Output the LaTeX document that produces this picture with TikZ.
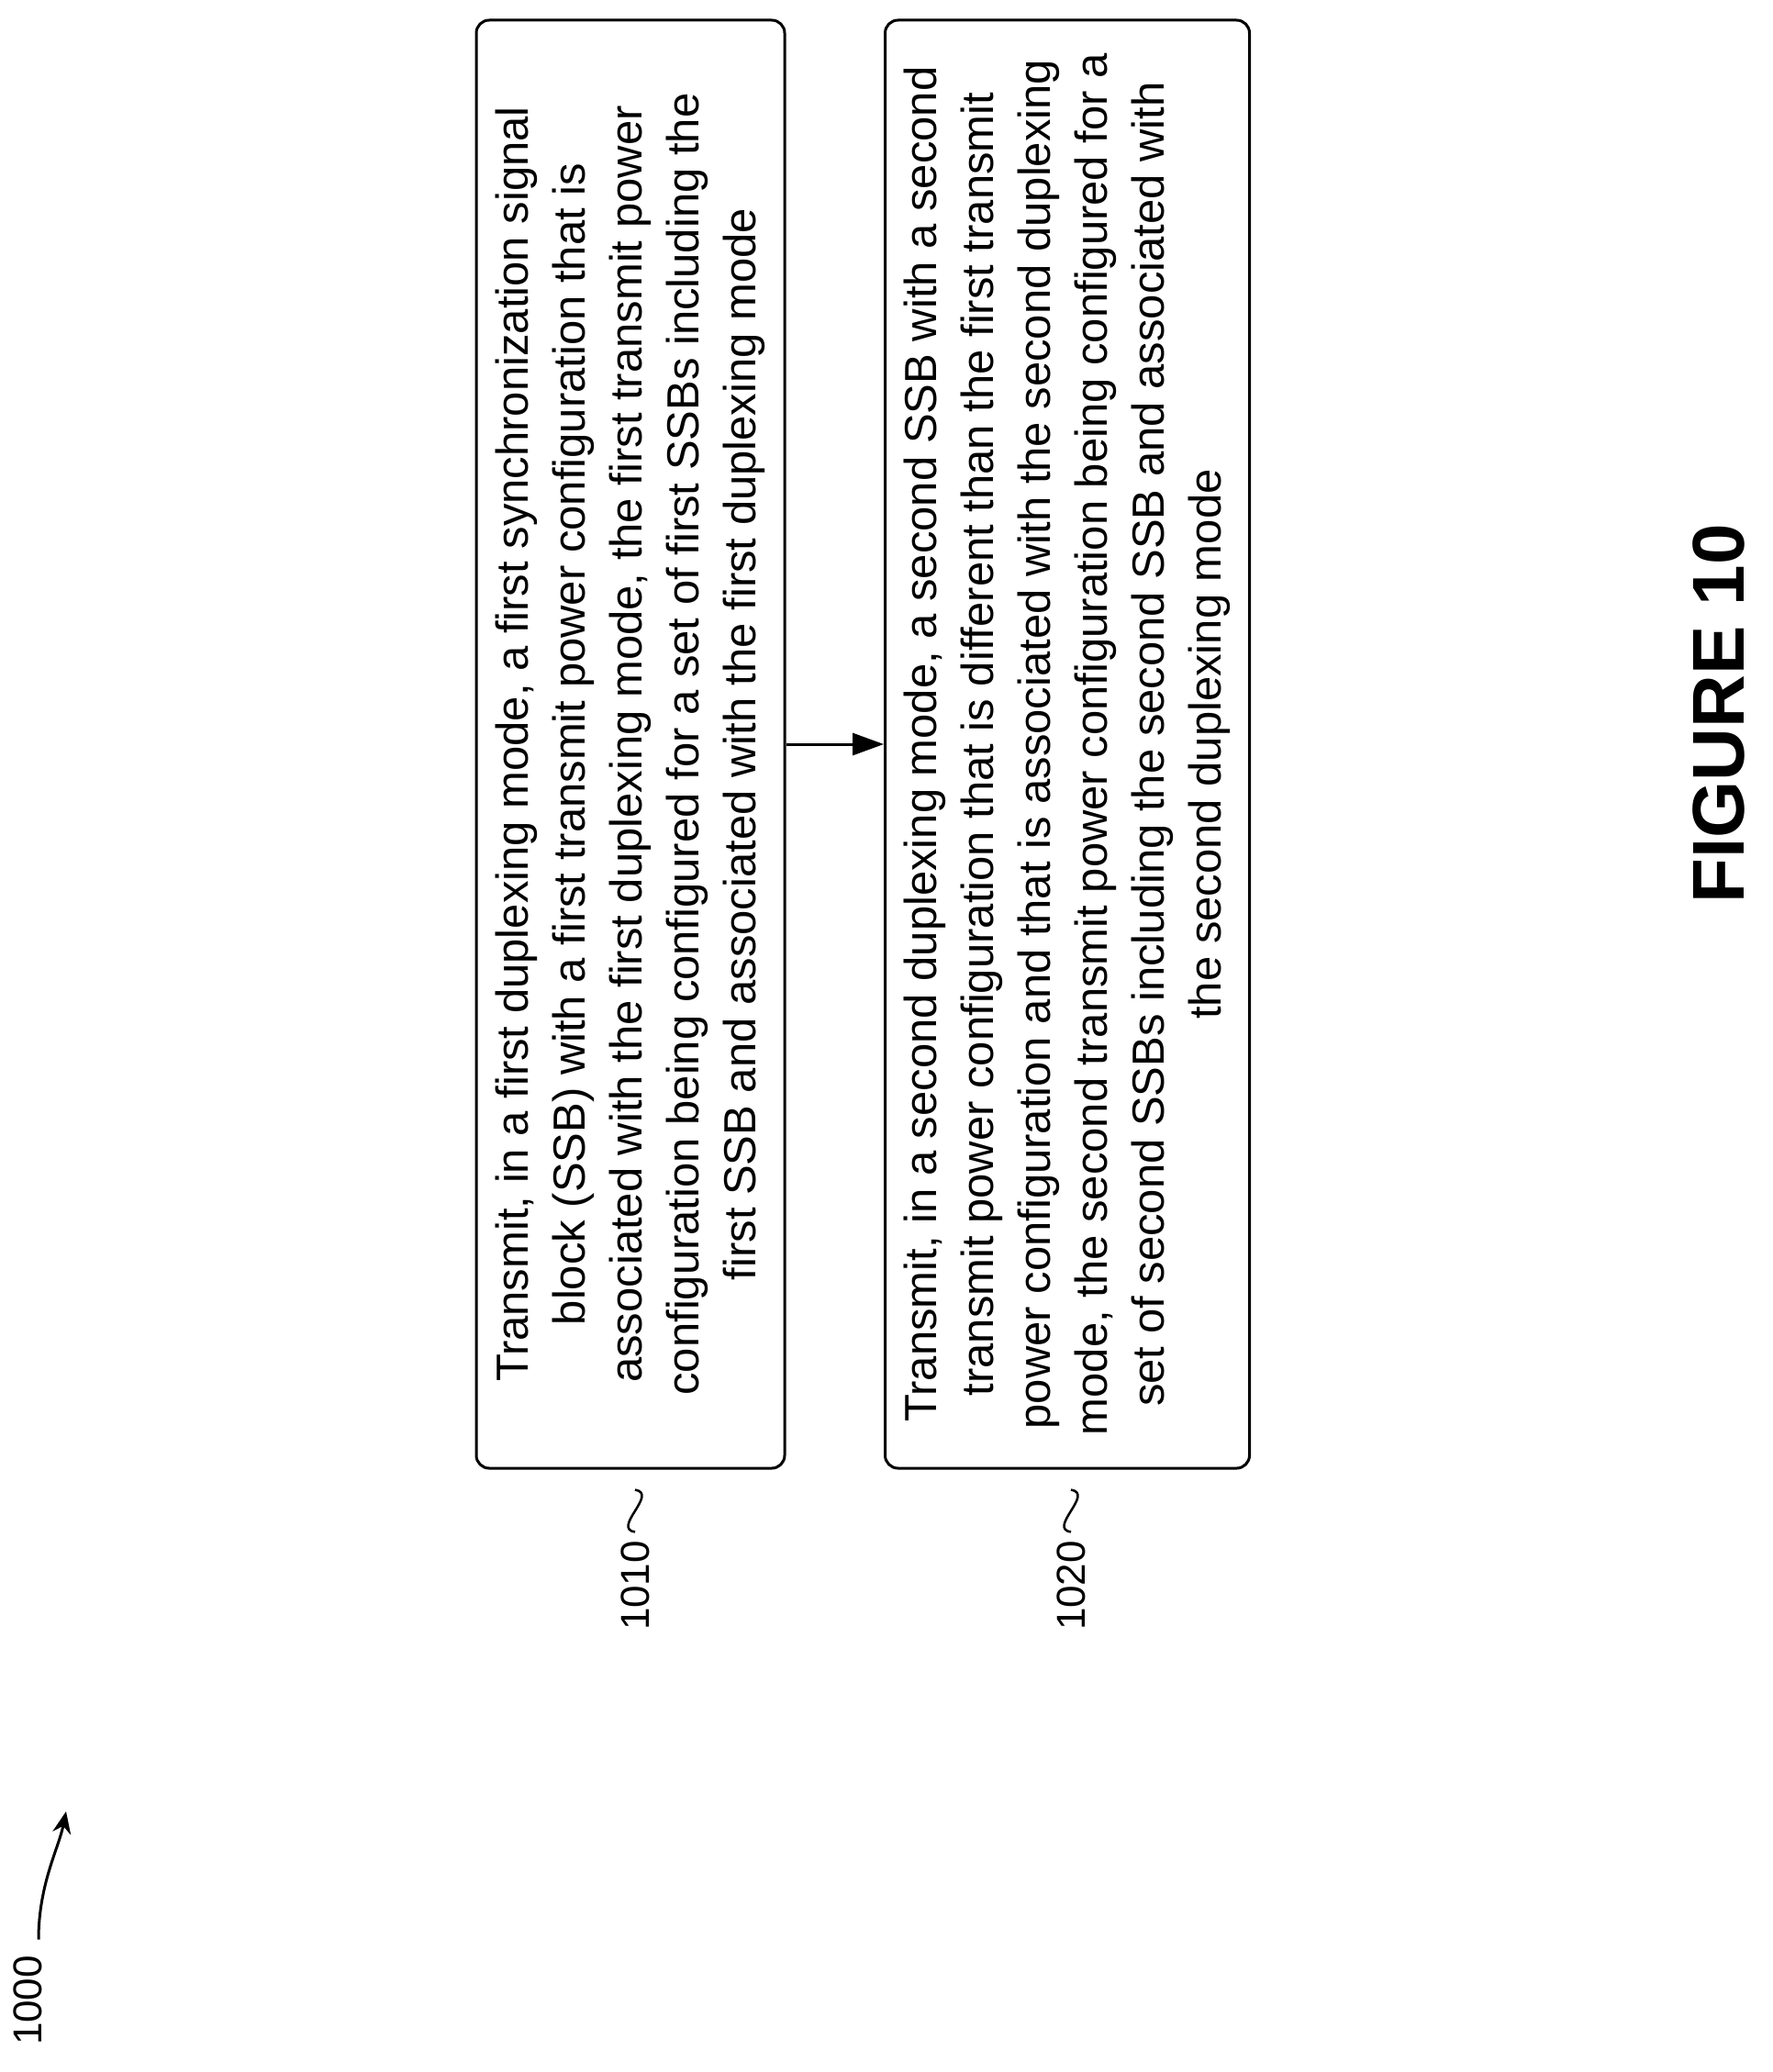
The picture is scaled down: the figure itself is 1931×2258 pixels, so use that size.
\documentclass[tikz,border=0pt]{standalone}
\usepackage{fontspec}
\setmainfont{Liberation Sans}
\usetikzlibrary{arrows.meta}
\tikzset{
  stepbox/.style={draw,line width=3pt,rounded corners=14pt,inner sep=0pt},
  boxtext/.style={rotate=90,align=center,font=\fontsize{49}{62}\selectfont},
  reflabel/.style={rotate=90,font=\fontsize{44}{50}\selectfont},
}
\begin{document}
\begin{tikzpicture}[x=1pt,y=-1pt]
\useasboundingbox (0,0) rectangle (1931,2258);
\node[stepbox,minimum width=336pt,minimum height=1578pt] (b1) at (687,811) {};
\node[boxtext] (t1) at (b1.center) {Transmit, in a first duplexing mode, a first synchronization signal\\block (SSB) with a first transmit power configuration that is\\associated with the first duplexing mode, the first transmit power\\configuration being configured for a set of first SSBs including the\\first SSB and associated with the first duplexing mode};
\node[stepbox,minimum width=397pt,minimum height=1578pt] (b2) at (1163,811) {};
\node[boxtext] (t2) at (b2.center) {Transmit, in a second duplexing mode, a second SSB with a second\\transmit power configuration that is different than the first transmit\\power configuration and that is associated with the second duplexing\\mode, the second transmit power configuration being configured for a\\set of second SSBs including the second SSB and associated with\\the second duplexing mode};
\draw[line width=3pt,-{Triangle[length=34pt,width=24pt]}] (b1.east |- 0,811) -- (b2.west |- 0,811);
\node[reflabel] (l1) at (692,1728) {1010};
\node[reflabel] (l2) at (1167,1728) {1020};
\draw[line width=2.5pt] (l1.east) ++(0,-6) .. controls +(-26,-4) and +(26,4) .. ++(0,-46);
\draw[line width=2.5pt] (l2.east) ++(0,-6) .. controls +(-26,-4) and +(26,4) .. ++(0,-46);
\node[reflabel] (l0) at (30,2180) {1000};
\coordinate (a0) at (72,1974);
\draw[line width=3pt,-{Stealth[length=24pt,width=20pt]}] (l0.east) ++(12,-14) .. controls +(0,-60) and +(-8,40) .. (a0);
\node[rotate=90,font=\bfseries\fontsize{80}{90}\selectfont] (fig) at (1873,778) {FIGURE 10};
\end{tikzpicture}
\end{document}
